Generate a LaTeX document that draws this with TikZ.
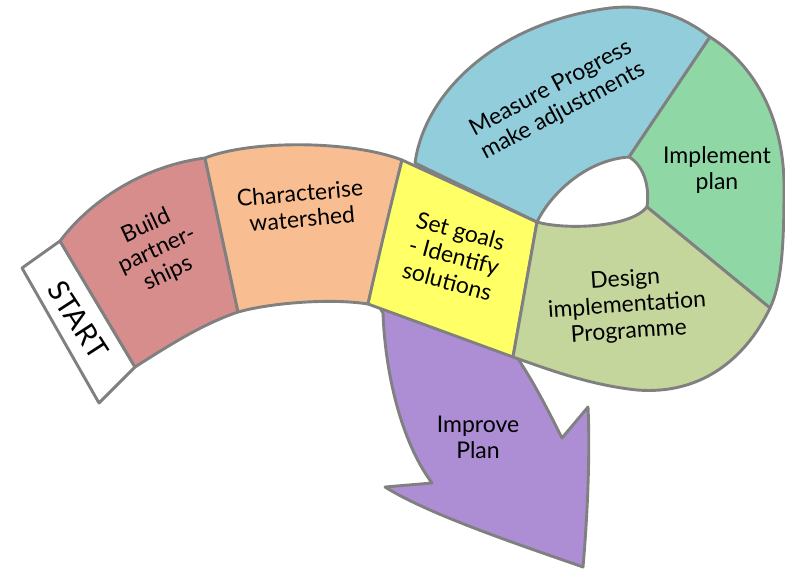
\documentclass[tikz,border=0pt]{standalone}
\usepackage{fontspec}
\setmainfont{Lato}
\definecolor{edgegray}{RGB}{128,128,128}
\definecolor{startfill}{RGB}{255,255,255}
\definecolor{buildfill}{RGB}{216,141,141}
\definecolor{charfill}{RGB}{248,190,145}
\definecolor{goalfill}{RGB}{255,255,102}
\definecolor{measfill}{RGB}{146,205,220}
\definecolor{implfill}{RGB}{143,216,166}
\definecolor{desfill}{RGB}{196,214,155}
\definecolor{impvfill}{RGB}{173,142,212}
\tikzset{
    band/.style={draw=edgegray, line width=2.9pt, line join=round},
    lbl/.style={font=\fontsize{23}{26}\selectfont, align=center, inner sep=0pt},
    startlbl/.style={font=\fontsize{29}{30}\selectfont, inner sep=0pt}
}

\begin{document}
\begin{tikzpicture}[x=1pt, y=-1pt]
            \useasboundingbox (0,0) rectangle (785,571);
            % ---- corners of the band
            \coordinate (s1) at (22,268);
            \coordinate (s2) at (60,241);
            \coordinate (s3) at (135,367);
            \coordinate (s4) at (99,403);
            \coordinate (b2) at (205,158);
            \coordinate (b3) at (238,312);
            \coordinate (c2) at (402,160);
            \coordinate (c3) at (368,304);
            \coordinate (g2) at (537,222);
            \coordinate (g3) at (513,357);
            \coordinate (m1) at (415,163);
            \coordinate (m2) at (710,37);
            \coordinate (m3) at (629,157);
            \coordinate (i2) at (770,308);
            \coordinate (i3) at (647,207);
            % ---- improve plan arrow, under the band
            \path[band, fill=impvfill]
            (375,300) --
            (383,313) .. controls (385,370) and (400,440) .. (432,483) --
            (385,487) .. controls (430,515) and (520,545) .. (583,567)
            .. controls (588,510) and (590,450) .. (588,407) --
            (562,438) .. controls (548,410) and (535,385) .. (522,365) --
            (513,350) -- cycle;
            % ---- start
            \path[band, fill=startfill] (s1) -- (s2) -- (s3) -- (s4) -- cycle;
            % ---- build partnerships
            \path[band, fill=buildfill]
            (s2) .. controls (95,195) and (150,165) .. (b2) --
            (b3) .. controls (200,325) and (165,348) .. (s3) -- cycle;
            % ---- characterise watershed
            \path[band, fill=charfill]
            (b2) .. controls (250,140) and (350,140) .. (c2) --
            (c3) .. controls (330,298) and (270,303) .. (b3) -- cycle;
            % ---- set goals
            \path[band, fill=goalfill]
            (c2) -- (g2) -- (g3) -- (c3)
            .. controls (380,250) and (392,200) .. (c2) -- cycle;
            % ---- measure progress
            \path[band, fill=measfill]
            (m1) .. controls (425,90) and (500,22) .. (610,8)
            .. controls (655,3) and (688,20) .. (m2) --
            (m3) .. controls (585,160) and (550,195) .. (g2) -- cycle;
            % ---- implement plan
            \path[band, fill=implfill]
            (m2) .. controls (755,65) and (785,120) .. (784,190)
            .. controls (784,250) and (781,285) .. (i2) --
            (i3) .. controls (650,185) and (643,165) .. (m3) -- cycle;
            % ---- design programme
            \path[band, fill=desfill]
            (i3) -- (i2) .. controls (745,360) and (700,395) .. (637,390)
            .. controls (590,385) and (550,370) .. (g3) --
            (g2) .. controls (565,230) and (630,228) .. (i3) -- cycle;
            % ---- labels
            \node[startlbl, rotate=-57] (start) at (78,320) {START};
            \node[lbl, rotate=25] (build) at (157,250) {Build\\partner-\\ships};
            \node[lbl, rotate=5] (charact) at (301,206) {Characterise\\watershed};
            \node[lbl, rotate=-15] (goals) at (454,256) {Set goals\\- Identify\\solutions};
            \node[lbl, rotate=28] (measure) at (557,100) {Measure Progress\\make adjustments};
            \node[lbl] (implement) at (717,170) {Implement\\plan};
            \node[lbl, rotate=4] (design) at (627,306) {Design\\implementation\\Programme};
            \node[lbl] (improve) at (478,437) {Improve\\Plan};
\end{tikzpicture}
\end{document}
